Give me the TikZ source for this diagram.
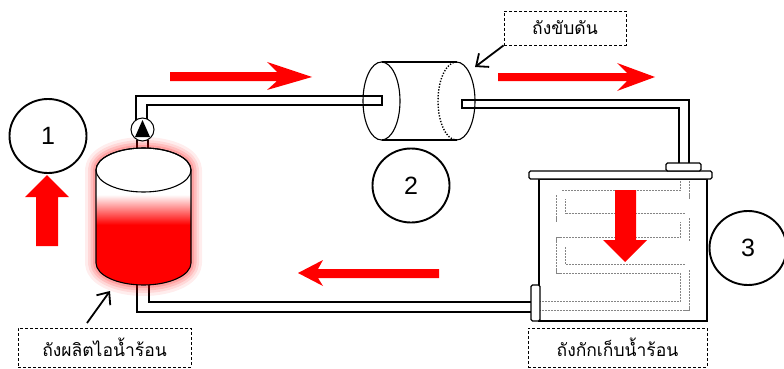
\documentclass[tikz,border=0pt]{standalone}
\usepackage{fontspec}
\setmainfont{Liberation Sans}
\newfontfamily\thaifont[Script=Thai]{Loma}
\usetikzlibrary{arrows.meta,positioning,calc,shapes.geometric}
\definecolor{Heat}{HTML}{FF0000}
\definecolor{Coil}{HTML}{858585}
\pgfdeclareverticalshading{boilerheat}{100bp}{color(0bp)=(Heat); color(47bp)=(Heat); color(58bp)=(white); color(100bp)=(white)}
\tikzset{
  pipe/.style={draw=black,line width=1.1pt},
  shell/.style={draw=black,line width=1.1pt},
  stage/.style={draw=black,ellipse,line width=1.9pt,minimum width=77pt,minimum height=74pt,inner sep=0pt,font=\fontsize{25}{27}\selectfont},
  tag/.style={draw=black,dash pattern=on 3pt off 2pt,line width=.8pt,inner sep=0pt,font=\thaifont\fontsize{17.5}{19}\selectfont},
  flowarrow/.style={fill=Heat,draw=none},
  pointer/.style={-{Straight Barb[length=10pt,width=17pt]},line width=1.8pt},
  coiledge/.style={draw=Coil,line width=9.6pt,dash pattern=on 2pt off 1pt},
  coilcore/.style={draw=white,line width=8pt}
}
% outline of the heated vessel and the centre line of the coil
\newcommand{\boilerpath}{(96,170) arc[start angle=180,end angle=0,x radius=47.5pt,y radius=22pt] -- (191,263) arc[start angle=0,end angle=-180,x radius=47.5pt,y radius=22pt] -- cycle}
\newcommand{\coilpath}{(685,175) -- (685,194.5) -- (561,194.5) -- (561,217.5) -- (685,217.5) -- (685,241.5) -- (561,241.5) -- (561,269) -- (685,269) -- (685,306) -- (535,306)}

\begin{document}
\begin{tikzpicture}[x=1pt,y=-1pt]
  \useasboundingbox (0,0) rectangle (784,369);

  % pipes
  \draw[pipe] (136,120) -- (136,96) -- (382,96) -- (382,105) -- (147,105) -- (147,120);
  \draw[pipe] (137,140) -- (137,152) (148,140) -- (148,152);
  \draw[pipe] (679,163) -- (679,108) -- (462,108) -- (462,100) -- (689,100) -- (689,163);
  \draw[pipe] (137,278) -- (137,312) -- (531,312) (149,278) -- (149,302) -- (531,302);

  % vessel 1 with its glow
  \foreach \w/\o in {22/.07,16/.09,11/.12,6/.15}
    \draw[Heat,opacity=\o,line width=\w pt,line join=round] \boilerpath;
  \shade[shading=boilerheat] \boilerpath;
  \draw[shell] \boilerpath;
  \draw[shell] (143.5,170) ellipse [x radius=47.5pt,y radius=22pt];

  % pump
  \node[draw=black,circle,fill=white,line width=1pt,minimum size=23pt,inner sep=0pt] (pump) at (142.5,129.5) {};
  \fill[black] (135,137) -- (142.5,120) -- (150,137) -- cycle;

  % drum
  \coordinate (drum) at (419,101);
  \draw[shell] (381.5,101) ellipse [x radius=18.5pt,y radius=39pt];
  \draw[shell] (381.5,62) -- (456.5,62) (381.5,140) -- (456.5,140);
  \draw[shell] (456.5,62) arc[start angle=90,end angle=-90,x radius=18.5pt,y radius=39pt];
  \draw[shell,line width=1.4pt,dash pattern=on 1.3pt off 1.6pt] (456.5,62) arc[start angle=90,end angle=270,x radius=18.5pt,y radius=39pt];

  % storage tank and coil
  \fill[white] (539,179) rectangle (707,321);
  \begin{scope}
    \clip (539.5,179.5) rectangle (706.5,320.5);
    \draw[coiledge] \coilpath;
    \draw[coilcore] \coilpath;
  \end{scope}
  \draw[shell] (539,179) rectangle (707,321);
  \draw[shell,fill=white,rounded corners=1.5pt] (529,171) rectangle (712,179);
  \draw[shell,fill=white,rounded corners=1.5pt] (666,163) rectangle (701,171);
  \draw[shell,fill=white,rounded corners=1.5pt] (531,285) rectangle (540,321);

  % flow arrows
  \fill[flowarrow] (170,72) -- (277,72) -- (267,62) -- (312,77) -- (267,90) -- (277,81) -- (170,81) -- cycle;
  \fill[flowarrow] (498,73) -- (627,73) -- (617,63) -- (655,77) -- (617,91) -- (627,81) -- (498,81) -- cycle;
  \fill[flowarrow] (439,269) -- (318,269) -- (323,260) -- (298,273) -- (323,286) -- (318,278) -- (439,278) -- cycle;
  \fill[flowarrow] (36,246) -- (36,197) -- (25,197) -- (47,175) -- (69,197) -- (58,197) -- (58,246) -- cycle;
  \fill[flowarrow] (615,190) -- (636,190) -- (636,240) -- (647,240) -- (625,262) -- (603,240) -- (615,240) -- cycle;

  % stage numbers
  \node[stage] (one) at (48,136) {1};
  \node[stage] (two) at (411,185.5) {2};
  \node[stage] (three) at (748,248) {3};

  % labels
  \node[tag,minimum width=122pt,minimum height=34pt] (tagdrum) at (565,28) {ถังขับดัน};
  \node[tag,minimum width=173pt,minimum height=39pt] (tagboiler) at (104.5,347.5) {ถังผลิตไอน้ำร้อน};
  \node[tag,minimum width=179pt,minimum height=39pt] (tagstore) at (617.5,347.5) {ถังกักเก็บน้ำร้อน};
  \coordinate (drumtip) at (475,67);
  \coordinate (boilertail) at (87,323);
  \coordinate (boilertip) at (110,291);
  \draw[pointer] (tagdrum.south west) -- (drumtip);
  \draw[pointer] (boilertail) -- (boilertip);
\end{tikzpicture}
\end{document}
